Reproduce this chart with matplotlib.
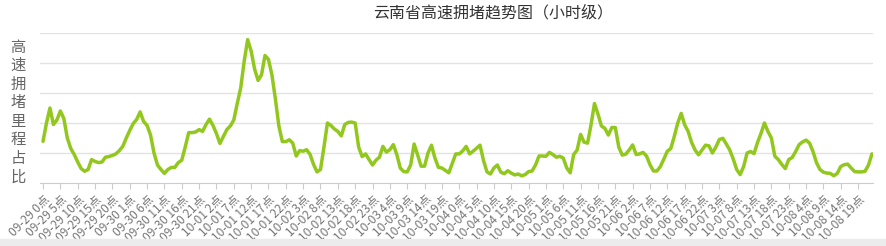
import matplotlib
matplotlib.use("Agg")
import matplotlib.pyplot as plt
from matplotlib.patches import Rectangle
import numpy as np

plt.rcParams['font.family'] = ['Noto Sans CJK SC', 'DejaVu Sans']

# hourly congestion share, 09-29 0点 .. 10-08 23点 (grid units)
days = ["09-29", "09-30", "10-01", "10-02", "10-03",
        "10-04", "10-05", "10-06", "10-07", "10-08"]
values = [
    # 09-29
    1.39, 2.0, 2.5, 1.95, 2.1, 2.4, 2.15, 1.5, 1.15, 0.95, 0.7, 0.48,
    0.39, 0.45, 0.78, 0.72, 0.68, 0.7, 0.86, 0.88, 0.92, 0.97, 1.08, 1.22,
    # 09-30
    1.5, 1.75, 1.98, 2.12, 2.37, 2.05, 1.92, 1.6, 1.0, 0.6, 0.45, 0.32,
    0.45, 0.52, 0.52, 0.68, 0.76, 1.2, 1.68, 1.68, 1.7, 1.78, 1.72, 1.95,
    # 10-01
    2.13, 1.92, 1.65, 1.32, 1.55, 1.78, 1.9, 2.1, 2.65, 3.17, 4.06, 4.78,
    4.4, 3.8, 3.42, 3.61, 4.25, 4.12, 3.6, 2.8, 1.9, 1.38, 1.38, 1.44,
    # 10-02
    1.33, 0.9, 1.08, 1.06, 1.11, 0.95, 0.62, 0.37, 0.45, 1.2, 2.0, 1.92,
    1.8, 1.72, 1.57, 1.95, 2.02, 2.03, 2.0, 1.2, 0.88, 0.97, 0.78, 0.6,
    # 10-03
    0.76, 0.86, 1.22, 1.03, 1.11, 1.28, 0.95, 0.5, 0.38, 0.37, 0.6, 1.3,
    0.94, 0.56, 0.56, 1.0, 1.26, 0.83, 0.52, 0.5, 0.42, 0.34, 0.65, 0.97,
    # 10-04
    0.97, 1.07, 1.22, 0.97, 1.06, 1.16, 1.26, 0.75, 0.37, 0.3, 0.5, 0.6,
    0.36, 0.31, 0.41, 0.33, 0.27, 0.3, 0.24, 0.28, 0.38, 0.4, 0.6, 0.9,
    # 10-05
    0.9, 0.89, 1.02, 0.95, 0.86, 0.89, 0.83, 0.5, 0.34, 0.95, 1.1, 1.62,
    1.36, 1.33, 1.94, 2.65, 2.3, 1.9, 1.82, 1.6, 1.85, 1.85, 1.2, 0.93,
    # 10-06
    0.96, 1.1, 1.27, 0.95, 0.97, 1.02, 0.9, 0.61, 0.4, 0.4, 0.55, 0.8,
    1.06, 1.15, 1.55, 2.0, 2.32, 1.94, 1.72, 1.35, 1.1, 0.94, 1.1, 1.26,
    # 10-07
    1.24, 1.0, 1.2, 1.45, 1.49, 1.3, 1.1, 0.8, 0.45, 0.28, 0.55, 1.0,
    1.05, 0.98, 1.35, 1.65, 2.0, 1.72, 1.5, 0.89, 0.78, 0.62, 0.48, 0.78,
    # 10-08
    0.85, 1.05, 1.28, 1.37, 1.43, 1.33, 1.05, 0.68, 0.45, 0.36, 0.33, 0.32,
    0.24, 0.32, 0.55, 0.61, 0.63, 0.5, 0.38, 0.37, 0.37, 0.39, 0.6, 0.97,
]
hours = np.arange(len(values))
tick_hours = np.arange(0, len(values) - 4, 5)
tick_labels = [f"{days[h // 24]} {h % 24}点" for h in tick_hours]

fig = plt.figure(figsize=(8.87, 2.46), dpi=100)
ax = fig.add_axes([40 / 887, 63 / 246, 833 / 887, 150 / 246])

ax.plot(hours, values, color="#92c81e", lw=2.5,
        solid_joinstyle="round", solid_capstyle="round")

ax.set_xlim(-0.87, 239.3)
ax.set_ylim(0, 5)
ax.set_yticks([1, 2, 3, 4, 5])
ax.yaxis.grid(True, color="#e3e3e3", lw=1)
ax.tick_params(axis="y", length=0, labelleft=False)
for s in ["top", "right", "left"]:
    ax.spines[s].set_visible(False)
ax.spines["bottom"].set_color("#cccccc")

ax.set_xticks(tick_hours)
ax.set_xticklabels(tick_labels, rotation=45, ha="right",
                   rotation_mode="anchor", fontsize=8.6, color="#777777")
ax.tick_params(axis="x", length=4, color="#cccccc", pad=3)

fig.text(493 / 887, 1 - 13 / 246, "云南省高速拥堵趋势图（小时级）",
         ha="center", va="center", fontsize=11.5, color="#333333")
fig.text(18 / 887, 1 - 112 / 246, "\n".join("高速拥堵里程占比"),
         ha="center", va="center", fontsize=11, color="#666666",
         linespacing=1.12)

fig.patches.append(Rectangle((0, 0), 1, 7 / 246, transform=fig.transFigure,
                             color="#ececec", zorder=0))

fig.savefig("out.png", dpi=100)
